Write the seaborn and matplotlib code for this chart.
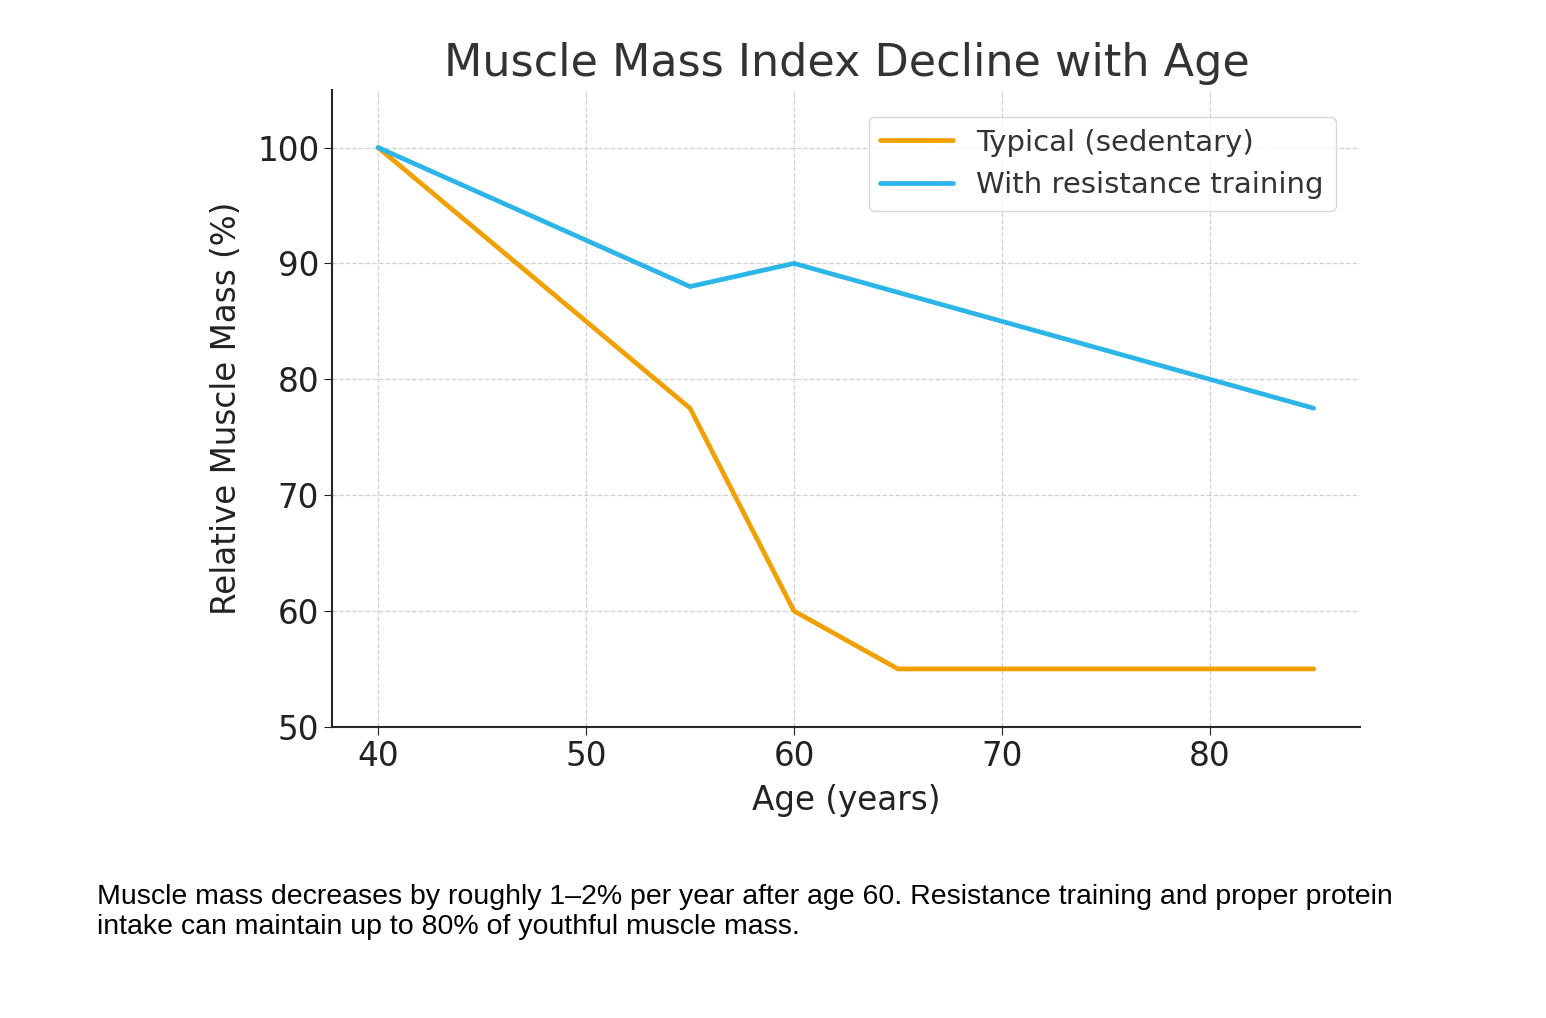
import matplotlib
matplotlib.use("Agg")
from matplotlib import pyplot as plt
import pandas as pd
import seaborn as sns

# data
ages = [40, 55, 60, 65, 85]
typical = [100, 77.5, 60, 55, 55]
training = [100, 88, 90, 87.5, 77.5]

df = pd.DataFrame({
    "age": ages * 2,
    "mass": typical + training,
    "group": ["Typical (sedentary)"] * len(ages) + ["With resistance training"] * len(ages),
})

sns.set_style("ticks")
plt.rcParams['font.family'] = ['DejaVu Sans']

fig = plt.figure(figsize=(15.46, 10.18), dpi=100)
ax = fig.add_axes([0.215, 0.286, 0.665, 0.626])

sns.lineplot(data=df, x="age", y="mass", hue="group",
             palette=["#F0A000", "#2BB5E8"], linewidth=3.4, ax=ax)

ax.set_xlim(37.8, 87.25)
ax.set_ylim(50, 105)
ax.set_xticks([40, 50, 60, 70, 80])
ax.set_yticks([50, 60, 70, 80, 90, 100])
ax.tick_params(labelsize=23.5, length=6, colors="#222222")
ax.grid(True, linestyle="--", color="#d0d0d0", linewidth=0.9)
sns.despine(ax=ax)
for s in ["left", "bottom"]:
    ax.spines[s].set_linewidth(1.5)

ax.set_title("Muscle Mass Index Decline with Age", fontsize=32, color="#333333", pad=10)
ax.set_xlabel("Age (years)", fontsize=23.5, color="#222222", labelpad=8)
ax.set_ylabel("Relative Muscle Mass (%)", fontsize=23.5, color="#222222", labelpad=10)

leg = ax.legend(loc="upper right", fontsize=21, frameon=True, handlelength=2.5,
                bbox_to_anchor=(0.99, 0.98))
for t in leg.get_texts():
    t.set_color("#333333")

fig.text(0.063, 0.077,
         "Muscle mass decreases by roughly 1–2% per year after age 60. Resistance training and proper protein\n"
         "intake can maintain up to 80% of youthful muscle mass.",
         fontsize=20.5, family=["Liberation Sans", "DejaVu Sans"], va="bottom",
         linespacing=1.2, color="black")

fig.savefig("out.png", dpi=100)
